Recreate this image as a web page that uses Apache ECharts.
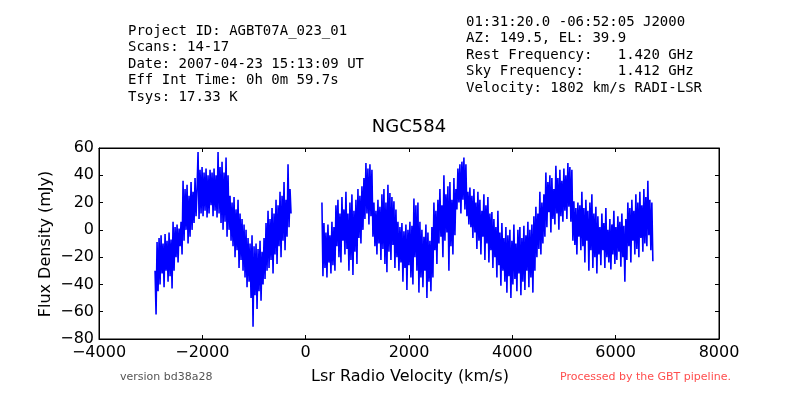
<!DOCTYPE html>
<html>
<head>
<meta charset="utf-8">
<script src="https://cdn.jsdelivr.net/npm/echarts@6/dist/echarts.min.js"></script>
<style>html,body{margin:0;padding:0;background:#fff;}#c{width:800px;height:400px;}</style>
</head>
<body>
<div id="c"></div>
<script>
// Channel grid (km/s)
var channelStep = 19.35;
var seg1Start = -2915;
var seg2Start = 315;

// Flux density (mJy), segment 1
var seg1Flux = [
-30,-62,-9,-45,-6,-40,-4,-32,-10,-42,-3,-30,-8,-38,-2,-34,-7,-43,6,-30,
2,-20,4,-24,1,-12,6,-18,36,-8,30,0,33,-10,25,-5,35,0,28,5,
38,10,30,57,8,44,12,46,10,42,14,45,9,40,12,44,18,42,10,45,
14,40,9,57,12,46,5,50,0,42,6,53,-5,40,0,25,-8,20,-12,24,
-20,15,-15,22,-28,12,-22,8,-30,4,-35,0,-42,-6,-38,-10,-50,-4,-71,-12,
-48,-10,-58,-14,-45,-8,-52,-16,-40,-6,-36,5,-30,14,-28,8,-22,16,-32,12,
-18,22,-25,18,-12,28,-20,25,-8,35,-15,22,-5,48,2,30,12
];

// Flux density (mJy), segment 2
var seg2Flux = [
20,-34,5,-28,-2,-35,4,-24,-4,-32,6,-26,2,-30,18,-12,22,-20,12,-24,
24,-8,15,-18,28,-14,12,-30,20,-22,26,-33,14,-16,22,-25,30,-6,25,-10,
32,0,38,8,49,12,45,4,48,10,44,-5,20,-12,14,-18,22,-10,17,-22,
26,-14,30,-25,20,-31,33,-16,27,-22,24,-11,21,-28,15,-20,6,-30,2,-24,
5,-38,-1,-28,4,-44,0,-26,6,-35,3,-40,23,-20,18,-30,20,-46,6,-35,
0,-42,-5,-30,4,-50,-2,-38,-8,-45,2,-35,20,-15,14,-25,22,-10,30,-5,
18,-20,40,-8,26,-2,32,-30,35,-12,22,-18,38,-4,30,15,45,20,48,12,
50,22,53,15,48,10,28,4,31,2,25,-6,30,-2,20,-14,28,-8,22,-18,
14,-5,26,-22,18,-10,24,-24,12,-15,13,-28,8,-20,2,-35,14,-26,-2,-41,
5,-30,-6,-38,2,-46,-4,-34,0,-50,-8,-40,4,-36,-10,-45,0,-32,2,-48,
-6,-38,3,-44,-4,-30,6,-42,0,-35,4,-46,10,-30,17,-20,12,-14,28,-18,
20,-10,26,-5,42,2,35,13,40,-2,38,8,30,4,47,12,38,0,44,10,
36,6,45,14,40,8,49,17,46,6,44,-8,21,-11,16,-18,20,-5,18,-15,
28,-12,16,-24,22,-8,14,-30,20,-15,26,-28,12,-20,17,-32,10,-18,2,-26,
12,-15,5,-28,16,-20,0,-24,8,-29,4,-18,14,-25,2,-22,10,-16,6,-27,
12,-20,3,-38,8,-22,20,-12,16,-24,22,-8,14,-18,26,-14,20,-20,28,-6,
18,-16,30,-10,24,-12,36,-4,22,-15,20,-23
];

// Axis ticks
var xTicks = {min: -4000, max: 8000, interval: 2000};
var yTicks = {min: -80, max: 60, interval: 20};

var headerLeft = [
  'Project ID: AGBT07A_023_01',
  'Scans: 14-17',
  'Date: 2007-04-23 15:13:09 UT',
  'Eff Int Time: 0h 0m 59.7s',
  'Tsys: 17.33 K'
];
var headerRight = [
  '01:31:20.0 -06:52:05 J2000',
  'AZ: 149.5, EL: 39.9',
  'Rest Frequency:   1.420 GHz',
  'Sky Frequency:    1.412 GHz',
  'Velocity: 1802 km/s RADI-LSR'
];

function build(start, vals) {
  return vals.map(function (v, i) { return [start + i * channelStep, v]; });
}

var minusFmt = function (v) { return String(v).replace('-', '\u2212'); };
var tickFont = {fontFamily: 'DejaVu Sans', fontSize: 16, color: '#000'};

var graphics = [];
headerLeft.forEach(function (t, i) {
  graphics.push({type: 'text', left: 128, top: 24 + i * 16.6,
    style: {text: t, font: '14px "DejaVu Sans Mono"', fill: '#000'}});
});
headerRight.forEach(function (t, i) {
  graphics.push({type: 'text', left: 466, top: 15 + i * 16.6,
    style: {text: t, font: '14px "DejaVu Sans Mono"', fill: '#000'}});
});
graphics.push({type: 'text', x: 409, y: 127,
  style: {text: 'NGC584', font: '18px "DejaVu Sans"', fill: '#000', textAlign: 'center', textVerticalAlign: 'middle'}});
graphics.push({type: 'text', x: 410, y: 377,
  style: {text: 'Lsr Radio Velocity (km/s)', font: '16px "DejaVu Sans"', fill: '#000', textAlign: 'center', textVerticalAlign: 'middle'}});
graphics.push({type: 'text', x: 46, y: 244, rotation: Math.PI / 2,
  style: {text: 'Flux Density (mJy)', font: '16px "DejaVu Sans"', fill: '#000', textAlign: 'center', textVerticalAlign: 'middle'}});
graphics.push({type: 'text', x: 120, y: 377,
  style: {text: 'version bd38a28', font: '11px "DejaVu Sans"', fill: '#555', textAlign: 'left', textVerticalAlign: 'middle'}});
graphics.push({type: 'text', x: 560, y: 377,
  style: {text: 'Processed by the GBT pipeline.', font: '11px "DejaVu Sans"', fill: '#ff4d4d', textAlign: 'left', textVerticalAlign: 'middle'}});

var axisLineStyle = {show: true, onZero: false, lineStyle: {color: '#000', width: 1}};
var tickStyle = {show: true, inside: true, length: 4, lineStyle: {color: '#000'}};

var chart = echarts.init(document.getElementById('c'), null, {renderer: 'canvas'});
chart.setOption({
  animation: false,
  backgroundColor: '#fff',
  grid: {left: 99, right: 81, top: 148, bottom: 61, show: true, borderColor: '#000', borderWidth: 1, backgroundColor: 'transparent'},
  xAxis: [
    {type: 'value', min: xTicks.min, max: xTicks.max, interval: xTicks.interval,
     position: 'bottom', axisLine: axisLineStyle, axisTick: tickStyle, splitLine: {show: false},
     axisLabel: Object.assign({margin: 6, formatter: minusFmt}, tickFont)},
    {type: 'value', min: xTicks.min, max: xTicks.max, interval: xTicks.interval,
     position: 'top', axisLine: axisLineStyle, axisTick: tickStyle, splitLine: {show: false},
     axisLabel: {show: false}}
  ],
  yAxis: [
    {type: 'value', min: yTicks.min, max: yTicks.max, interval: yTicks.interval,
     position: 'left', axisLine: axisLineStyle, axisTick: tickStyle, splitLine: {show: false},
     axisLabel: Object.assign({margin: 5, formatter: minusFmt}, tickFont)},
    {type: 'value', min: yTicks.min, max: yTicks.max, interval: yTicks.interval,
     position: 'right', axisLine: axisLineStyle, axisTick: tickStyle, splitLine: {show: false},
     axisLabel: {show: false}}
  ],
  series: [
    {type: 'line', data: build(seg1Start, seg1Flux), showSymbol: false, symbol: 'none',
     sampling: null, lineStyle: {color: '#0000ff', width: 1.6}, z: 3},
    {type: 'line', data: build(seg2Start, seg2Flux), showSymbol: false, symbol: 'none',
     sampling: null, lineStyle: {color: '#0000ff', width: 1.6}, z: 3}
  ],
  graphic: graphics
});
</script>
</body>
</html>
